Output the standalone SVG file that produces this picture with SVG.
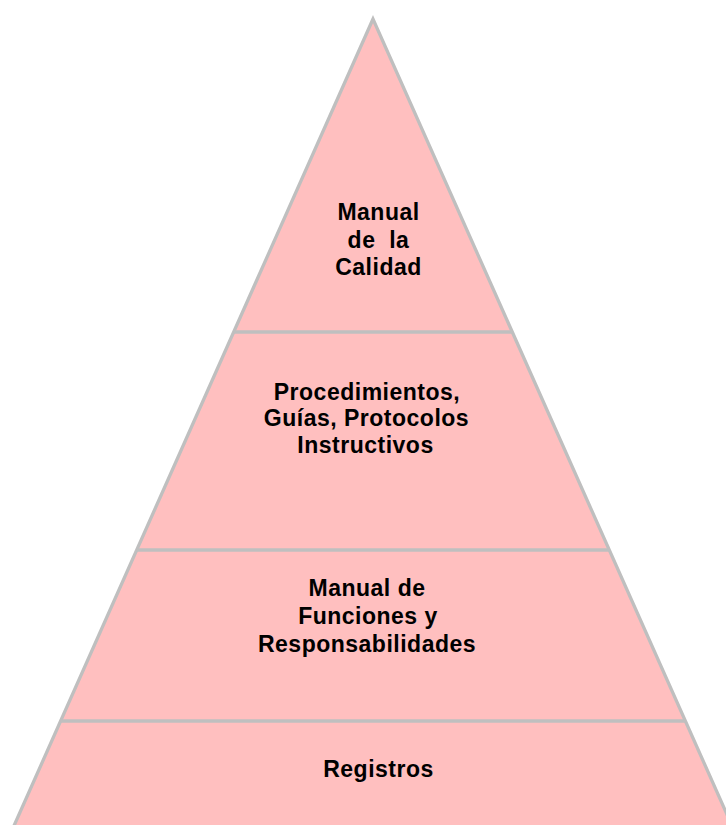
<svg xmlns="http://www.w3.org/2000/svg" width="726" height="825" viewBox="0 0 726 825">
<style>
.lbl{font-family:"Liberation Sans",Arial,sans-serif;font-weight:bold;font-size:23px;letter-spacing:0.5px;fill:#000;text-anchor:middle;white-space:pre}
.edge{stroke:#BFBFBF;stroke-width:3.3;fill:none}
</style>
<rect width="726" height="825" fill="#FFFFFF"/>
<g id="pyramid">
<polygon points="373,19 13,828 733,828" fill="#FFBFBF" stroke="#BFBFBF" stroke-width="3.3" stroke-linejoin="miter"/>
</g>
<g id="connectors">
<line class="edge" x1="233.4" y1="332" x2="512.6" y2="332"/>
<line class="edge" x1="136.2" y1="550" x2="609.8" y2="550"/>
<line class="edge" x1="60.4" y1="721" x2="685.6" y2="721"/>
</g>
<g id="node-manual-calidad">
<text class="lbl" x="378.5" y="219.5">Manual</text>
<text class="lbl" x="378.5" y="247.5" xml:space="preserve">de  la</text>
<text class="lbl" x="378.5" y="274.5">Calidad</text>
</g>
<g id="node-procedimientos">
<text class="lbl" x="367" y="399.5">Procedimientos,</text>
<text class="lbl" x="366.5" y="426">Guías, Protocolos</text>
<text class="lbl" x="365.5" y="452.7">Instructivos</text>
</g>
<g id="node-funciones">
<text class="lbl" x="367" y="596">Manual de</text>
<text class="lbl" x="368" y="624">Funciones y</text>
<text class="lbl" x="367" y="651.7">Responsabilidades</text>
</g>
<g id="node-registros">
<text class="lbl" x="378.5" y="777.3">Registros</text>
</g>
</svg>
